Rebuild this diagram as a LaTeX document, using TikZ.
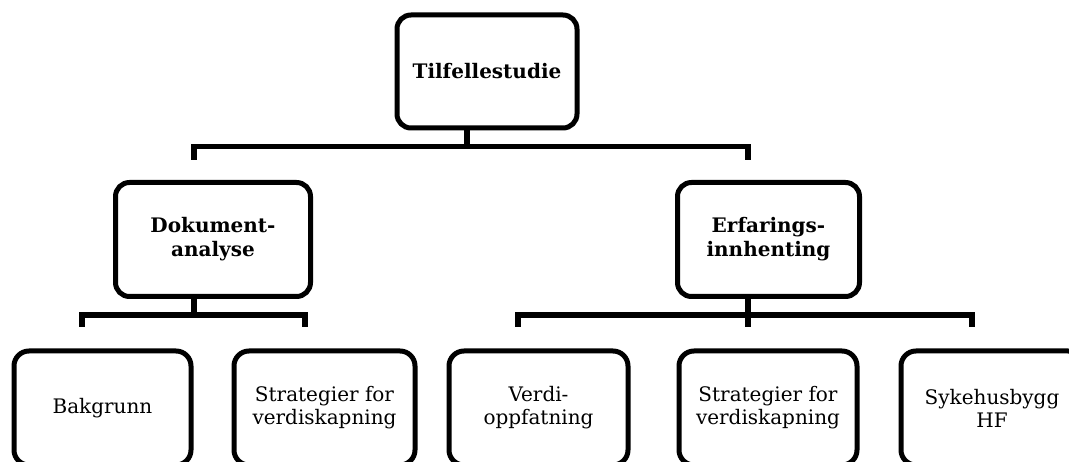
\documentclass[tikz,border=0pt]{standalone}
\usepackage{fontspec}
\setmainfont{DejaVu Serif}
\begin{document}
\begin{tikzpicture}[x=1pt,y=-1pt,
  box/.style={draw, line width=5pt, fill=white, align=center,
    inner sep=0pt, minimum width=180pt, minimum height=113pt},
  headbox/.style={box, rounded corners=14pt,
    font=\bfseries\fontsize{20}{24}\selectfont},
  leafbox/.style={box, rounded corners=15pt, minimum height=114pt,
    font=\fontsize{20}{23}\selectfont},
  conn/.style={line width=5.5pt}
]
\useasboundingbox (0,0) rectangle (1069,462);

% level 1
\node[headbox] (top) at (487,71.5) {Tilfellestudie};

% level 2
\node[headbox, minimum width=195pt, minimum height=114pt] (dok) at (213,239.5) {Dokument-\\analyse};
\node[headbox, minimum width=182pt, minimum height=114pt] (erf) at (768.5,239.5) {Erfarings-\\innhenting};

% level 3
\node[leafbox, minimum width=177pt] (bak) at (102.5,408) {Bakgrunn};
\node[leafbox, minimum width=181pt] (str1) at (324.5,408) {Strategier for\\verdiskapning};
\node[leafbox, minimum width=179pt] (ver) at (538.5,408) {Verdi-\\oppfatning};
\node[leafbox, minimum width=178pt] (str2) at (768,408) {Strategier for\\verdiskapning};
\node[leafbox, minimum width=182pt] (syk) at (992,408) {Sykehusbygg\\HF};

% connector levels and junctions
\coordinate (barA) at (0,146.5);
\coordinate (barB) at (0,315);
\coordinate (tj) at (467,146.5);
\coordinate (dA1) at (194,160);
\coordinate (dA2) at (748,160);
\coordinate (dB1) at (82,327);
\coordinate (dB2) at (305,327);
\coordinate (dokj) at (194,315);
\coordinate (dC1) at (518,327);
\coordinate (dC2) at (748,327);
\coordinate (dC3) at (972,327);

% Tilfellestudie -> level 2
\draw[conn] (top.south -| tj) -- (tj);
\draw[conn] (dA1) -- (dA1 |- barA) -- (dA2 |- barA) -- (dA2);

% Dokumentanalyse -> leaves
\draw[conn] (dok.south -| dokj) -- (dokj);
\draw[conn] (dB1) -- (dB1 |- barB) -- (dB2 |- barB) -- (dB2);

% Erfaringsinnhenting -> leaves
\draw[conn] (erf.south -| dC2) -- (dC2);
\draw[conn] (dC1) -- (dC1 |- barB) -- (dC3 |- barB) -- (dC3);
\end{tikzpicture}
\end{document}
